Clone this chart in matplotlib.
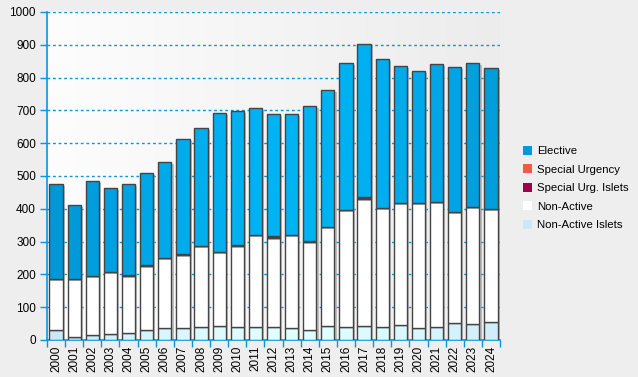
import numpy as np
import matplotlib
matplotlib.use("Agg")
import matplotlib.pyplot as plt
from matplotlib.patches import Patch
from matplotlib.colors import LinearSegmentedColormap, to_rgb

plt.rcParams['font.family'] = ['Liberation Sans', 'DejaVu Sans']

years = [str(y) for y in range(2000, 2025)]
non_active_islets = [32, 8, 15, 18, 20, 32, 36, 36, 39, 42, 39, 39, 39, 36, 32, 42, 39, 42, 39, 45, 36, 39, 51, 48, 54]
non_active = [153, 177, 179, 188, 174, 193, 213, 222, 247, 225, 247, 280, 273, 283, 266, 301, 356, 389, 362, 372, 381, 382, 338, 356, 344]
special_urg_islets = [0] * 25
special_urgency = [0, 0, 0, 0, 3, 3, 0, 3, 0, 0, 3, 0, 4, 0, 3, 0, 0, 4, 0, 0, 0, 0, 0, 0, 0]
elective = [290, 227, 291, 257, 278, 280, 293, 351, 360, 424, 409, 387, 372, 369, 411, 418, 448, 466, 455, 417, 403, 419, 442, 440, 430]

n = len(years)
x = np.arange(n)
# horizontal lighting: brightest near the middle, darker toward the edges
light = 1 - np.abs((x - 13) / 13.0) ** 1.5
light = np.clip(light, 0, 1)


def shade(edge, center):
    e, c = np.array(to_rgb(edge)), np.array(to_rgb(center))
    return [tuple(e + (c - e) * t) for t in light]


series = [
    ("Non-Active Islets", non_active_islets, shade("#cce8f6", "#e0ffff")),
    ("Non-Active", non_active, "#ffffff"),
    ("Special Urg. Islets", special_urg_islets, "#a0004a"),
    ("Special Urgency", special_urgency, "#5a3a3a"),
    ("Elective", elective, shade("#0097d7", "#00b4f4")),
]
legend_colors = {"Elective": "#0099dd", "Special Urgency": "#f05a46",
                 "Special Urg. Islets": "#a0004a", "Non-Active": "#ffffff",
                 "Non-Active Islets": "#cce8f8"}

fig = plt.figure(figsize=(6.38, 3.77), dpi=100, facecolor="#eeeeee")
ax = fig.add_axes([47/638, 1-340/377, 453/638, 328/377])

grad = np.linspace(0, 1, 256).reshape(1, -1)
bgcmap = LinearSegmentedColormap.from_list("bg", ["#fdfdfd", "#ececec"])
ax.imshow(grad, extent=[0, 1, 0, 1], transform=ax.transAxes, aspect="auto",
          cmap=bgcmap, zorder=0)

width = 0.73
totals = np.sum([s[1] for s in series], axis=0)

ax.bar(x + 0.12, totals, width=width, bottom=-6, color="#9a9a9a", alpha=0.6,
       linewidth=0, zorder=2)

bottom = np.zeros(n)
for name, vals, col in series:
    vals = np.array(vals, dtype=float)
    ax.bar(x, vals, width=width, bottom=bottom, color=col, edgecolor="#444444",
           linewidth=1.0, zorder=3)
    bottom += vals

ax.set_xlim(-0.5, n - 0.5)
ax.set_ylim(0, 1000)
ax.set_yticks(np.arange(0, 1001, 100))
ax.set_xticks(x)
ax.set_xticklabels(years, rotation=90)
ax.set_xticks(np.arange(-0.5, n, 1), minor=True)
ax.tick_params(axis="x", which="major", length=0, pad=4, labelsize=8.5, colors="#000000")
ax.tick_params(axis="x", which="minor", length=5, color="#0a96d8", width=1)
ax.tick_params(axis="y", which="major", length=5, color="#0a96d8", width=1, labelsize=8.5, pad=3)
ax.grid(axis="y", color="#0a96d8", linestyle=(0, (2, 2)), linewidth=1, zorder=1)
ax.set_axisbelow(True)
for s in ["top", "right"]:
    ax.spines[s].set_visible(False)
for s in ["left", "bottom"]:
    ax.spines[s].set_color("#0a96d8")
    ax.spines[s].set_linewidth(1.2)

handles = [Patch(facecolor=legend_colors[k], edgecolor="none", label=k)
           for k in ["Elective", "Special Urgency", "Special Urg. Islets", "Non-Active", "Non-Active Islets"]]
fig.legend(handles=handles, loc="center left", bbox_to_anchor=(513/638, 1-188/377),
           frameon=False, fontsize=8.2, handlelength=0.8, handleheight=0.8,
           handletextpad=0.45, labelspacing=0.72)

fig.savefig("out.png", dpi=100, facecolor=fig.get_facecolor())
